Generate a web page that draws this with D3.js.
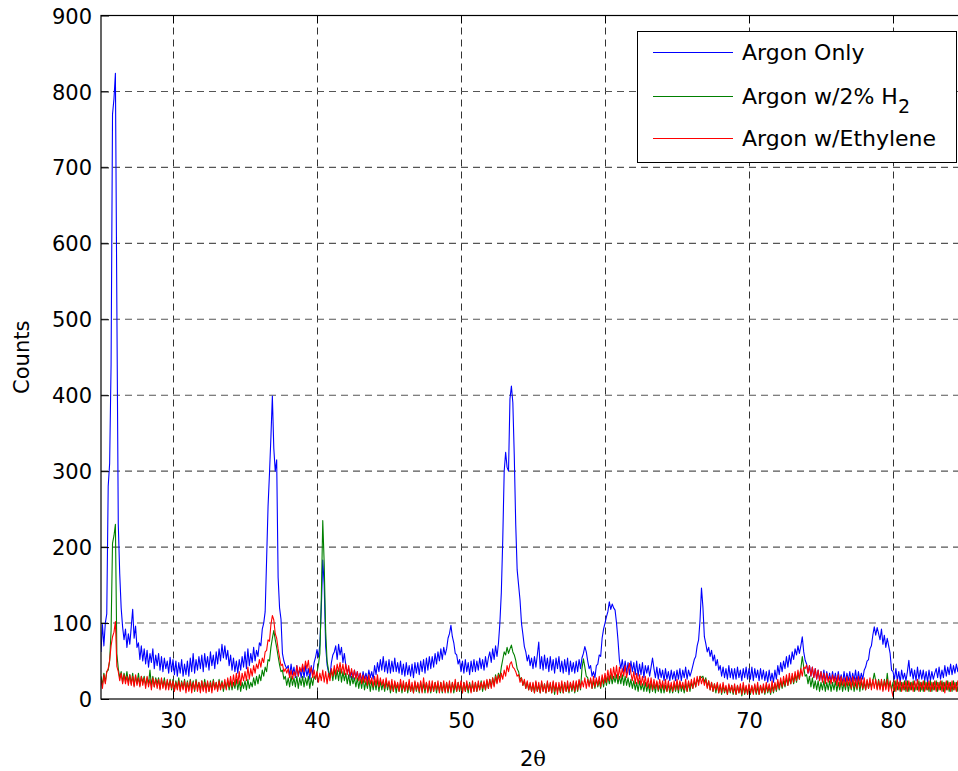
<!DOCTYPE html>
<html>
<head>
<meta charset="utf-8">
<script src="https://cdn.jsdelivr.net/npm/d3@7/dist/d3.min.js"></script>
<style>
  html, body { margin: 0; padding: 0; background: #fff; }
  svg { display: block; }
  text { font-family: "DejaVu Sans", sans-serif; fill: #000; }
</style>
</head>
<body>
<svg id="chart" width="958" height="771"></svg>
<script>
// XRD scan: 2θ from 25° to 85° sampled every 0.1°
const scanStart = 25;
const scanStep = 0.1;

const xTicks = [30, 40, 50, 60, 70, 80];
const yTicks = [0, 100, 200, 300, 400, 500, 600, 700, 800, 900];

const seriesNames = ["Argon Only", "Argon w/2% H", "Argon w/Ethylene"];
const seriesColors = ["#0000ff", "#008000", "#ff0000"];

// Counts, one row per degree (x.0 ... x.9)
const argonOnly = [
  62, 98, 70, 100, 112, 280, 310, 440, 770, 790,      // 25
  824, 520, 230, 165, 120, 95, 78, 92, 68, 86,        // 26
  72, 95, 118, 80, 96, 68, 74, 52, 70, 50,            // 27
  66, 46, 64, 42, 60, 48, 66, 40, 58, 44,             // 28
  60, 38, 56, 36, 54, 40, 50, 34, 55, 36,             // 29
  52, 32, 50, 30, 48, 34, 52, 30, 46, 32,             // 30
  50, 30, 54, 36, 60, 34, 52, 38, 56, 40,             // 31
  58, 36, 60, 42, 56, 38, 62, 44, 58, 40,             // 32
  62, 46, 66, 50, 72, 54, 70, 52, 64, 44,             // 33
  58, 38, 54, 36, 50, 34, 52, 38, 56, 42,             // 34
  62, 40, 66, 44, 60, 48, 68, 50, 64, 56,             // 35
  74, 70, 92, 100, 115, 183, 253, 297, 345, 399,      // 36
  330, 300, 315, 160, 120, 105, 60, 50, 44, 40,       // 37
  44, 30, 46, 32, 42, 28, 44, 30, 40, 28,             // 38
  42, 28, 44, 30, 40, 26, 44, 32, 48, 55,             // 39
  65, 55, 72, 120, 183, 150, 70, 45, 35, 30,          // 40
  48, 58, 62, 70, 52, 72, 58, 68, 48, 60,             // 41
  44, 36, 40, 28, 36, 26, 38, 28, 36, 26,             // 42
  34, 24, 36, 26, 34, 24, 38, 28, 36, 26,             // 43
  44, 32, 48, 36, 52, 38, 56, 36, 50, 34,             // 44
  52, 34, 50, 36, 54, 36, 48, 34, 50, 32,             // 45
  46, 30, 48, 32, 44, 30, 46, 28, 48, 34,             // 46
  48, 32, 50, 36, 52, 34, 54, 38, 56, 40,             // 47
  56, 42, 60, 46, 62, 50, 66, 52, 68, 58,             // 48
  66, 80, 86, 97, 82, 74, 60, 58, 46, 52,             // 49
  36, 50, 34, 52, 36, 48, 32, 50, 36, 52,             // 50
  36, 50, 38, 54, 40, 52, 38, 56, 42, 54,             // 51
  62, 48, 66, 52, 70, 56, 73, 100, 140, 210,          // 52
  300, 325, 305, 300, 395, 412, 390, 320, 230, 170,   // 53
  150, 130, 100, 85, 69, 62, 50, 58, 44, 54,          // 54
  40, 56, 42, 58, 75, 40, 56, 38, 58, 40,             // 55
  54, 36, 56, 38, 52, 34, 54, 40, 56, 36,             // 56
  50, 34, 52, 36, 54, 32, 50, 36, 48, 34,             // 57
  50, 36, 52, 40, 54, 60, 69, 62, 50, 40,             // 58
  44, 30, 36, 28, 44, 46, 58, 56, 80, 92,             // 59
  100, 108, 115, 128, 118, 125, 120, 117, 100, 78,    // 60
  51, 40, 52, 36, 50, 34, 48, 32, 50, 36,             // 61
  48, 32, 50, 30, 46, 32, 48, 28, 44, 34,             // 62
  44, 30, 42, 54, 40, 28, 42, 26, 40, 28,             // 63
  38, 24, 40, 26, 36, 24, 38, 26, 36, 24,             // 64
  38, 26, 40, 24, 38, 28, 42, 26, 38, 30,             // 65
  36, 44, 52, 56, 70, 78, 104, 146, 121, 82,          // 66
  73, 62, 68, 56, 64, 50, 58, 44, 52, 38,             // 67
  44, 30, 42, 28, 40, 26, 44, 28, 40, 26,             // 68
  40, 26, 42, 28, 38, 24, 40, 28, 42, 26,             // 69
  40, 26, 42, 24, 40, 28, 38, 24, 40, 26,             // 70
  38, 24, 36, 22, 38, 24, 34, 22, 38, 26,             // 71
  44, 32, 48, 36, 50, 40, 56, 42, 58, 46,             // 72
  62, 52, 66, 58, 70, 60, 70, 82, 62, 51,             // 73
  46, 34, 44, 30, 42, 28, 40, 26, 38, 24,             // 74
  36, 24, 38, 22, 36, 24, 34, 22, 36, 24,             // 75
  34, 22, 36, 24, 32, 20, 36, 22, 34, 24,             // 76
  36, 22, 34, 24, 38, 22, 36, 24, 34, 26,             // 77
  38, 42, 50, 52, 66, 70, 84, 95, 84, 94,             // 78
  86, 78, 92, 72, 84, 68, 80, 70, 60, 38,             // 79
  36, 26, 40, 24, 36, 22, 38, 26, 34, 24,             // 80
  36, 51, 30, 40, 26, 38, 24, 42, 26, 38,             // 81
  26, 38, 24, 36, 22, 38, 24, 36, 26, 34,             // 82
  40, 28, 42, 26, 38, 28, 44, 30, 42, 32,             // 83
  46, 32, 44, 34, 46, 36, 48, 34, 44, 50,             // 84
  46                                                  // 85
];

const argonH2 = [
  30, 18, 34, 22, 36, 38, 50, 90, 205, 215,           // 25
  230, 60, 40, 28, 36, 22, 34, 24, 36, 22,            // 26
  32, 20, 34, 18, 30, 20, 34, 18, 30, 22,             // 27
  30, 18, 28, 20, 38, 18, 30, 16, 28, 20,             // 28
  28, 14, 26, 16, 28, 14, 24, 16, 26, 12,             // 29
  26, 12, 24, 14, 28, 12, 24, 14, 26, 12,             // 30
  24, 12, 26, 14, 24, 10, 26, 14, 22, 12,             // 31
  24, 12, 26, 14, 22, 10, 24, 12, 26, 14,             // 32
  22, 12, 26, 14, 24, 10, 22, 14, 24, 12,             // 33
  24, 12, 22, 14, 26, 12, 24, 10, 22, 14,             // 34
  24, 12, 26, 14, 22, 16, 28, 18, 30, 20,             // 35
  32, 24, 38, 30, 42, 36, 52, 50, 68, 80,             // 36
  90, 78, 68, 56, 45, 36, 38, 26, 30, 18,             // 37
  28, 16, 30, 18, 28, 16, 30, 14, 28, 18,             // 38
  30, 16, 28, 18, 30, 14, 28, 18, 30, 26,             // 39
  35, 45, 60, 134, 235, 178, 90, 50, 38, 28,          // 40
  38, 24, 40, 26, 38, 24, 40, 22, 36, 24,             // 41
  34, 20, 32, 18, 30, 20, 28, 16, 28, 14,             // 42
  26, 14, 28, 12, 24, 14, 26, 10, 24, 12,             // 43
  24, 12, 26, 10, 24, 12, 22, 10, 24, 12,             // 44
  22, 8, 20, 10, 22, 8, 20, 10, 22, 8,                // 45
  20, 10, 22, 8, 20, 10, 18, 8, 22, 10,               // 46
  20, 8, 22, 10, 20, 8, 22, 10, 18, 8,                // 47
  20, 10, 22, 8, 20, 10, 22, 8, 20, 10,               // 48
  22, 8, 20, 10, 22, 8, 20, 10, 22, 10,               // 49
  20, 8, 22, 10, 20, 8, 22, 10, 20, 10,               // 50
  22, 10, 20, 12, 24, 10, 22, 12, 24, 14,             // 51
  26, 16, 28, 18, 32, 22, 34, 28, 42, 52,             // 52
  62, 58, 68, 60, 66, 71, 62, 58, 51, 40,             // 53
  36, 26, 28, 18, 24, 14, 22, 12, 20, 10,             // 54
  20, 8, 22, 10, 18, 8, 22, 10, 20, 8,                // 55
  22, 10, 20, 8, 22, 6, 20, 10, 18, 8,                // 56
  20, 8, 22, 10, 18, 8, 22, 10, 20, 8,                // 57
  22, 10, 24, 12, 40, 53, 42, 30, 28, 18,             // 58
  26, 14, 24, 14, 26, 16, 24, 14, 28, 16,             // 59
  28, 18, 30, 20, 32, 20, 30, 22, 32, 20,             // 60
  30, 20, 32, 18, 30, 18, 28, 16, 26, 14,             // 61
  24, 12, 22, 10, 24, 12, 20, 10, 22, 10,             // 62
  20, 8, 22, 10, 20, 8, 22, 10, 18, 8,                // 63
  20, 8, 18, 10, 20, 8, 18, 8, 20, 10,                // 64
  20, 8, 22, 10, 18, 8, 20, 10, 22, 10,               // 65
  22, 14, 24, 16, 26, 22, 30, 28, 30, 22,             // 66
  28, 16, 24, 12, 22, 10, 20, 8, 20, 8,               // 67
  18, 6, 18, 8, 16, 6, 18, 8, 18, 6,                  // 68
  16, 6, 18, 8, 16, 4, 18, 6, 16, 6,                  // 69
  18, 6, 16, 8, 18, 6, 16, 6, 18, 8,                  // 70
  16, 6, 18, 8, 16, 6, 18, 8, 20, 10,                 // 71
  22, 12, 24, 14, 24, 16, 28, 18, 28, 20,             // 72
  30, 20, 32, 22, 34, 26, 40, 56, 42, 30,             // 73
  32, 20, 30, 16, 28, 14, 24, 12, 24, 10,             // 74
  22, 12, 24, 10, 22, 12, 24, 10, 22, 12,             // 75
  24, 10, 22, 12, 24, 10, 22, 12, 24, 10,             // 76
  22, 12, 24, 10, 22, 12, 26, 10, 24, 12,             // 77
  22, 12, 24, 14, 22, 16, 24, 34, 24, 14,             // 78
  26, 14, 24, 12, 26, 14, 34, 16, 22, 12,             // 79
  22, 10, 24, 12, 22, 10, 22, 12, 24, 10,             // 80
  24, 10, 22, 12, 24, 10, 20, 12, 24, 10,             // 81
  22, 10, 24, 12, 22, 10, 24, 10, 22, 12,             // 82
  24, 10, 22, 12, 24, 10, 22, 12, 24, 10,             // 83
  22, 10, 24, 12, 22, 10, 24, 12, 22, 10,             // 84
  18                                                  // 85
];

const argonEthylene = [
  26, 14, 32, 20, 36, 40, 51, 70, 82, 88,             // 25
  102, 43, 36, 24, 34, 20, 32, 20, 30, 18,            // 26
  32, 18, 30, 16, 32, 18, 28, 16, 30, 18,             // 27
  28, 14, 30, 16, 26, 12, 28, 16, 26, 14,             // 28
  26, 12, 28, 14, 24, 12, 26, 12, 24, 14,             // 29
  24, 10, 22, 12, 24, 10, 22, 12, 24, 8,              // 30
  22, 10, 24, 8, 22, 12, 24, 10, 22, 8,               // 31
  24, 10, 22, 8, 24, 10, 22, 8, 24, 12,               // 32
  22, 10, 24, 12, 22, 14, 26, 12, 28, 16,             // 33
  30, 16, 32, 18, 34, 20, 36, 18, 34, 24,             // 34
  36, 24, 42, 26, 40, 30, 44, 34, 46, 40,             // 35
  52, 42, 54, 48, 62, 64, 78, 76, 98, 110,            // 36
  104, 86, 80, 66, 55, 44, 46, 36, 40, 34,            // 37
  40, 28, 38, 26, 36, 30, 44, 30, 42, 36,             // 38
  46, 36, 50, 40, 51, 34, 42, 28, 38, 26,             // 39
  36, 22, 34, 24, 38, 22, 36, 20, 34, 24,             // 40
  40, 30, 44, 32, 46, 36, 48, 34, 46, 32,             // 41
  46, 32, 44, 30, 40, 28, 38, 26, 36, 24,             // 42
  34, 20, 32, 22, 30, 18, 32, 20, 28, 16,             // 43
  30, 18, 32, 16, 28, 18, 26, 14, 28, 16,             // 44
  24, 12, 26, 10, 24, 14, 22, 10, 26, 12,             // 45
  24, 10, 22, 12, 26, 10, 22, 8, 24, 12,              // 46
  22, 10, 24, 8, 28, 12, 22, 8, 24, 10,               // 47
  24, 10, 22, 12, 24, 8, 22, 10, 24, 8,               // 48
  22, 10, 24, 8, 22, 12, 26, 10, 22, 12,              // 49
  24, 8, 22, 10, 24, 12, 20, 8, 24, 10,               // 50
  22, 10, 24, 12, 22, 14, 24, 12, 26, 14,             // 51
  26, 14, 28, 16, 30, 20, 32, 22, 34, 26,             // 52
  38, 30, 44, 36, 46, 49, 42, 40, 36, 30,             // 53
  32, 22, 28, 18, 26, 14, 24, 12, 22, 10,             // 54
  22, 8, 24, 10, 22, 8, 24, 10, 20, 8,                // 55
  24, 10, 22, 8, 24, 10, 22, 6, 22, 10,               // 56
  24, 8, 22, 10, 24, 10, 22, 12, 24, 10,              // 57
  24, 12, 26, 14, 24, 16, 28, 14, 26, 16,             // 58
  28, 14, 30, 16, 28, 18, 30, 16, 32, 20,             // 59
  34, 22, 38, 24, 40, 26, 42, 28, 44, 26,             // 60
  42, 28, 40, 30, 44, 28, 38, 47, 34, 24,             // 61
  36, 20, 34, 20, 32, 18, 30, 18, 30, 16,             // 62
  28, 14, 28, 12, 26, 14, 24, 12, 26, 14,             // 63
  24, 12, 26, 10, 24, 12, 22, 10, 24, 12,             // 64
  26, 12, 24, 14, 22, 12, 26, 10, 24, 14,             // 65
  26, 14, 28, 16, 30, 18, 30, 20, 28, 18,             // 66
  26, 14, 24, 12, 22, 10, 20, 12, 22, 8,              // 67
  20, 8, 22, 10, 18, 6, 20, 10, 18, 8,                // 68
  20, 6, 18, 8, 20, 6, 22, 8, 18, 6,                  // 69
  20, 8, 18, 6, 20, 8, 22, 6, 18, 8,                  // 70
  20, 8, 22, 10, 20, 8, 24, 10, 22, 12,               // 71
  26, 14, 28, 16, 30, 18, 32, 18, 34, 20,             // 72
  34, 22, 36, 24, 38, 26, 40, 30, 42, 40,             // 73
  45, 34, 44, 30, 42, 28, 40, 26, 38, 24,             // 74
  36, 22, 34, 20, 34, 22, 30, 20, 32, 22,             // 75
  30, 18, 32, 16, 30, 18, 28, 16, 30, 18,             // 76
  28, 14, 30, 16, 28, 14, 30, 16, 28, 14,             // 77
  28, 12, 26, 14, 28, 12, 26, 14, 26, 12,             // 78
  24, 12, 26, 10, 24, 12, 26, 10, 24, 12,             // 79
  3, 24, 10, 26, 12, 24, 10, 22, 12, 24,              // 80
  10, 24, 12, 22, 10, 24, 12, 26, 10, 22,             // 81
  12, 24, 10, 22, 12, 24, 10, 22, 12, 24,             // 82
  10, 22, 12, 24, 10, 22, 8, 24, 12, 22,              // 83
  10, 24, 12, 22, 10, 24, 12, 22, 10, 24,             // 84
  16                                                  // 85
];

const series = [argonOnly, argonH2, argonEthylene];

const svg = d3.select("#chart");
const plotLeft = 101, plotRight = 965, plotTop = 15.5, plotBottom = 699;

const x = d3.scaleLinear().domain([25, 85]).range([plotLeft, plotRight]);
const y = d3.scaleLinear().domain([0, 900]).range([plotBottom, plotTop]);

// grid
const grid = svg.append("g");
grid.selectAll("line.gx").data(xTicks).join("line")
  .attr("x1", d => Math.round(x(d)) + 0.5).attr("x2", d => Math.round(x(d)) + 0.5)
  .attr("y1", plotTop).attr("y2", plotBottom)
  .attr("stroke", "#333").attr("stroke-width", 1).attr("stroke-dasharray", "7,5");
grid.selectAll("line.gy").data(yTicks.filter(v => v > 0 && v < 900)).join("line")
  .attr("x1", plotLeft).attr("x2", plotRight)
  .attr("y1", d => y(d)).attr("y2", d => y(d))
  .attr("stroke", "#555").attr("stroke-width", 1.1).attr("stroke-dasharray", "7,5");

// data
svg.append("clipPath").attr("id", "plotClip")
  .append("rect").attr("x", plotLeft).attr("y", plotTop)
  .attr("width", plotRight - plotLeft).attr("height", plotBottom - plotTop);

const line = d3.line()
  .x((d, i) => x(scanStart + i * scanStep))
  .y(d => y(d));

const plot = svg.append("g").attr("clip-path", "url(#plotClip)");
series.forEach((vals, k) => {
  plot.append("path")
    .attr("d", line(vals))
    .attr("fill", "none")
    .attr("stroke", seriesColors[k])
    .attr("stroke-width", 1.1)
    .attr("stroke-linejoin", "round");
});

// axes
const fontSize = 21;
const gx = svg.append("g").attr("transform", `translate(0,${plotBottom})`)
  .call(d3.axisBottom(x).tickValues(xTicks).tickSize(-8).tickPadding(14).tickFormat(d3.format("d")));
const gy = svg.append("g").attr("transform", `translate(${plotLeft},0)`)
  .call(d3.axisLeft(y).tickValues(yTicks).tickSize(-8).tickPadding(9).tickFormat(d3.format("d")));
const gt = svg.append("g").attr("transform", `translate(0,${plotTop})`)
  .call(d3.axisTop(x).tickValues(xTicks).tickSize(-8).tickFormat(""));
[gx, gy, gt].forEach(g => {
  g.select(".domain").remove();
  g.selectAll(".tick line").attr("stroke", "#000");
  g.selectAll("text").attr("font-family", "DejaVu Sans").attr("font-size", fontSize).attr("fill", "#000");
});
gy.selectAll("text").attr("dy", "0.36em");

// axes box
svg.append("rect")
  .attr("x", plotLeft).attr("y", plotTop)
  .attr("width", plotRight - plotLeft).attr("height", plotBottom - plotTop)
  .attr("fill", "none").attr("stroke", "#000").attr("stroke-width", 1.2);

// axis titles
svg.append("text")
  .attr("transform", `translate(29,${(plotTop + plotBottom) / 2}) rotate(-90)`)
  .attr("text-anchor", "middle")
  .attr("font-size", fontSize)
  .text("Counts");
const xt = svg.append("text")
  .attr("x", (plotLeft + plotRight) / 2).attr("y", 766)
  .attr("text-anchor", "middle")
  .attr("font-size", fontSize);
xt.append("tspan").text("2");
xt.append("tspan").attr("font-family", "DejaVu Serif").text("θ");

// legend
const lg = svg.append("g");
lg.append("rect")
  .attr("x", 637.5).attr("y", 31.5).attr("width", 319).attr("height", 131)
  .attr("fill", "#fff").attr("stroke", "#000").attr("stroke-width", 1);
const legendY = [52, 96, 138];
seriesNames.forEach((name, k) => {
  lg.append("line")
    .attr("x1", 653).attr("x2", 733)
    .attr("y1", legendY[k] + 0.5).attr("y2", legendY[k] + 0.5)
    .attr("stroke", seriesColors[k]).attr("stroke-width", 1);
  const t = lg.append("text")
    .attr("x", 742).attr("y", legendY[k] + 8)
    .attr("font-size", 22)
    .text(name);
  if (k === 1) {
    t.append("tspan").attr("dy", 9).attr("font-size", 19).text("2");
  }
});
</script>
</body>
</html>
